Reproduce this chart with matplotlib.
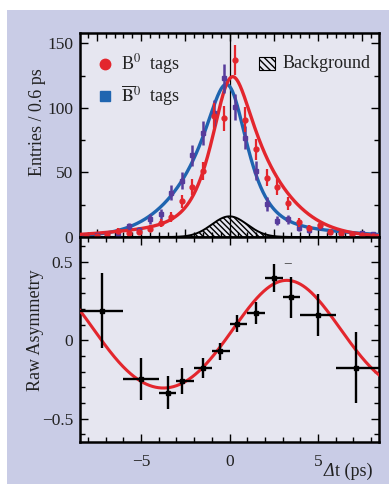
import numpy as np
import matplotlib
matplotlib.use("Agg")
import matplotlib.pyplot as plt
from matplotlib.patches import Rectangle
from matplotlib.ticker import MultipleLocator

plt.rcParams['font.family'] = ['Liberation Serif', 'DejaVu Serif']
plt.rcParams['mathtext.fontset'] = 'stix'
plt.rcParams['hatch.linewidth'] = 1.0

# ---------------- data ----------------
bin_centers = [-8.1, -7.5, -6.9, -6.3, -5.7, -5.1, -4.5, -3.9, -3.3, -2.7, -2.1, -1.5, -0.9, -0.3,
               0.3, 0.9, 1.5, 2.1, 2.7, 3.3, 3.9, 4.5, 5.1, 5.7, 6.3, 6.9, 7.5, 8.1]
b0_counts = [1, 1, 2, 4.5, 3, 4, 6.5, 11, 15.5, 27.5, 39, 51, 94, 92,
             137, 91, 68, 46, 39, 26, 11.5, 7, 9, 4, 3, 2, 1.5, 1]
b0_err = [1.0, 1.0, 1.4, 2.1, 1.7, 2.0, 2.5, 3.3, 3.9, 5.2, 6.2, 7.1, 9.7, 9.6,
          11.7, 9.5, 8.2, 6.8, 6.2, 5.1, 3.4, 2.6, 3.0, 2.0, 1.7, 1.4, 1.2, 1.0]
b0bar_counts = [1, 1.5, 2, 2.5, 8.3, 5.4, 14, 17.5, 34.4, 43.7, 63.3, 80.5, 96, 123,
                101, 77, 51.5, 25.6, 12.5, 13.7, 7, 5.4, 8.5, 4, 2.8, 2.3, 2.8, 2.1]
b0bar_err = [1.0, 1.2, 1.4, 1.6, 2.9, 2.3, 3.7, 4.2, 5.9, 6.6, 8.0, 9.0, 9.8, 11.1,
             10.0, 8.8, 7.2, 5.1, 3.5, 3.7, 2.6, 2.3, 2.9, 2.0, 1.7, 1.5, 1.7, 1.4]

asym_t = [-7.2, -5.0, -3.5, -2.7, -1.5, -0.55, 0.45, 1.5, 2.5, 3.5, 5.0, 7.15]
asym_lo = [-8.5, -6.0, -4.0, -3.0, -2.0, -1.0, 0.0, 1.0, 2.0, 3.0, 4.0, 6.0]
asym_hi = [-6.0, -4.0, -3.0, -2.0, -1.0, 0.0, 1.0, 2.0, 3.0, 4.0, 6.0, 8.5]
asym_val = [0.19, -0.25, -0.335, -0.26, -0.18, -0.07, 0.106, 0.174, 0.40, 0.275, 0.16, -0.175]
asym_err = [0.237, 0.134, 0.104, 0.082, 0.064, 0.053, 0.053, 0.07, 0.09, 0.13, 0.135, 0.228]

# fit-model parameters
TAU, DM, DIL, SIG = 1.9, 0.47, 0.44, 0.5
RED_PEAK, BLUE_PEAK = 124, 117
BKG_PEAK, BKG_SIG = 16, 1.0
ASYM_A, ASYM_B, ASYM_W, ASYM_T0 = 0.344, 0.039, 0.45, -0.25

XMIN, XMAX = -8.45, 8.45

# ---------------- figure ----------------
W, H = 389, 484
fig = plt.figure(figsize=(W / 100, H / 100), dpi=100)
fig.patch.set_facecolor('white')
fig.add_artist(Rectangle((7 / W, 0), 1 - 7 / W, 1 - 10 / H, transform=fig.transFigure,
                         facecolor='#c9cce6', edgecolor='none', zorder=0))

ax1 = fig.add_axes([80 / W, 1 - 237 / H, 299 / W, 204 / H])
ax2 = fig.add_axes([80 / W, 1 - 442 / H, 299 / W, 205 / H])

RED = '#e3262d'
BLUE = '#1f65b0'
PURPLE = '#573c9c'
TXT = '#222222'

for ax in (ax1, ax2):
    ax.set_facecolor('#e6e6f0')
    for s in ax.spines.values():
        s.set_linewidth(1.8)
    ax.tick_params(which='both', direction='in', top=True, right=True, colors='black',
                   labelcolor=TXT, labelsize=12.5, width=1)
    ax.tick_params(which='major', length=6)
    ax.tick_params(which='minor', length=3.5)
    ax.set_xlim(XMIN, XMAX)

# model curves
tt = np.arange(-20, 20, 0.01)
kx = np.arange(-400, 401) * 0.01
kern = np.exp(-0.5 * (kx / SIG) ** 2)
kern /= kern.sum()
t_plot = np.linspace(XMIN, XMAX, 800)


def signal(sign):
    raw = np.exp(-np.abs(tt) / TAU) * (1 + sign * DIL * np.sin(DM * tt))
    conv = np.convolve(raw, kern, mode='same')
    return np.interp(t_plot, tt, conv)


bkg = BKG_PEAK * np.exp(-0.5 * (t_plot / BKG_SIG) ** 2)
sr = signal(+1)
sb = signal(-1)
red_curve = sr / sr.max() * (RED_PEAK - BKG_PEAK * 0.97) + bkg
blue_curve = sb / sb.max() * (BLUE_PEAK - BKG_PEAK * 0.9) + bkg

ax1.axvline(0, color='black', lw=0.9, zorder=1.5)
ax1.fill_between(t_plot, 0, bkg, facecolor='none', edgecolor='black', hatch='\\\\\\\\\\\\',
                 linewidth=0, zorder=2)
ax1.plot(t_plot, bkg, color='black', lw=1.4, zorder=2.2)
ax1.plot(t_plot, blue_curve, color=BLUE, lw=2.4, zorder=3)
ax1.plot(t_plot, red_curve, color=RED, lw=2.4, zorder=3.2)

ax1.errorbar(bin_centers, b0bar_counts, yerr=b0bar_err, fmt='s', ms=3.5, color=PURPLE,
             elinewidth=1.8, capsize=0, zorder=4)
ax1.errorbar(bin_centers, b0_counts, yerr=b0_err, fmt='o', ms=3.5, color=RED,
             elinewidth=1.6, capsize=0, zorder=4.2)

ax1.set_ylim(0, 158)
ax1.yaxis.set_major_locator(MultipleLocator(50))
ax1.yaxis.set_minor_locator(MultipleLocator(25))
ax1.xaxis.set_major_locator(MultipleLocator(2.5))
ax1.xaxis.set_minor_locator(MultipleLocator(0.5))
ax1.tick_params(axis='x', labelbottom=False)
ax1.tick_params(axis='y', pad=5)


# legend (manual, pixel-placed)
def ax1c(px, py):
    return ((px - 80) / 299, (237 - py) / 204)


ax1.plot(*ax1c(105, 64), 'o', ms=7.5, color=RED, transform=ax1.transAxes, clip_on=False, zorder=6)
ax1.plot(*ax1c(105, 96), 's', ms=7, color=BLUE, transform=ax1.transAxes, clip_on=False, zorder=6)
ax1.text(*ax1c(121, 64), r'B$^0$  tags', transform=ax1.transAxes, fontsize=13, color=TXT,
         ha='left', va='center', zorder=6)
ax1.text(*ax1c(121, 96), r'$\overline{\mathrm{B}}^0$  tags', transform=ax1.transAxes, fontsize=13,
         color=TXT, ha='left', va='center', zorder=6)
x0, y0 = ax1c(259, 70)
x1, y1 = ax1c(275, 57)
ax1.add_patch(Rectangle((x0, y0), x1 - x0, y1 - y0, transform=ax1.transAxes, facecolor='none',
                        edgecolor='black', hatch='\\\\\\\\\\', lw=0.8, zorder=6))
ax1.text(*ax1c(283, 63), 'Background', transform=ax1.transAxes, fontsize=13, color=TXT,
         ha='left', va='center', zorder=6)

# asymmetry panel
s = np.sin(ASYM_W * (t_plot - ASYM_T0))
asym_curve = ASYM_A * s + ASYM_B * s ** 2
ax2.plot(t_plot, asym_curve, color=RED, lw=2.2, zorder=3)
xe = [np.array(asym_t) - np.array(asym_lo), np.array(asym_hi) - np.array(asym_t)]
ax2.errorbar(asym_t, asym_val, xerr=xe, yerr=asym_err, fmt='s', ms=2.5, color='black',
             elinewidth=1.7, capsize=0, zorder=4)
ax2.text(3.3, 0.49, '\u2212', fontsize=11, color='#444444', ha='center', va='center')

ax2.set_ylim(-0.65, 0.66)
ax2.yaxis.set_major_locator(MultipleLocator(0.5))
ax2.yaxis.set_minor_locator(MultipleLocator(0.1))
ax2.xaxis.set_major_locator(MultipleLocator(5))
ax2.xaxis.set_minor_locator(MultipleLocator(1))
ax2.set_yticks([-0.5, 0, 0.5])
ax2.set_yticklabels(['\u22120.5', '0', '0.5'])
ax2.set_xticks([-5, 0, 5])
ax2.set_xticklabels(['\u22125', '0', '5'])
ax2.tick_params(axis='x', pad=9)
ax2.tick_params(axis='y', pad=5)

fig.text(37 / W, 1 - 122 / H, 'Entries / 0.6 ps', rotation=90, ha='center', va='center',
         fontsize=13, color=TXT)
fig.text(36 / W, 1 - 330 / H, 'Raw Asymmetry', rotation=90, ha='center', va='center',
         fontsize=13, color=TXT)
fig.text(324 / W, 1 - 471 / H, '\u0394', style='italic', ha='left', va='center',
         fontsize=13, color=TXT)
fig.text(335 / W, 1 - 471 / H, 't (ps)', ha='left', va='center',
         fontsize=13, color=TXT)

fig.savefig('out.png', dpi=100)
